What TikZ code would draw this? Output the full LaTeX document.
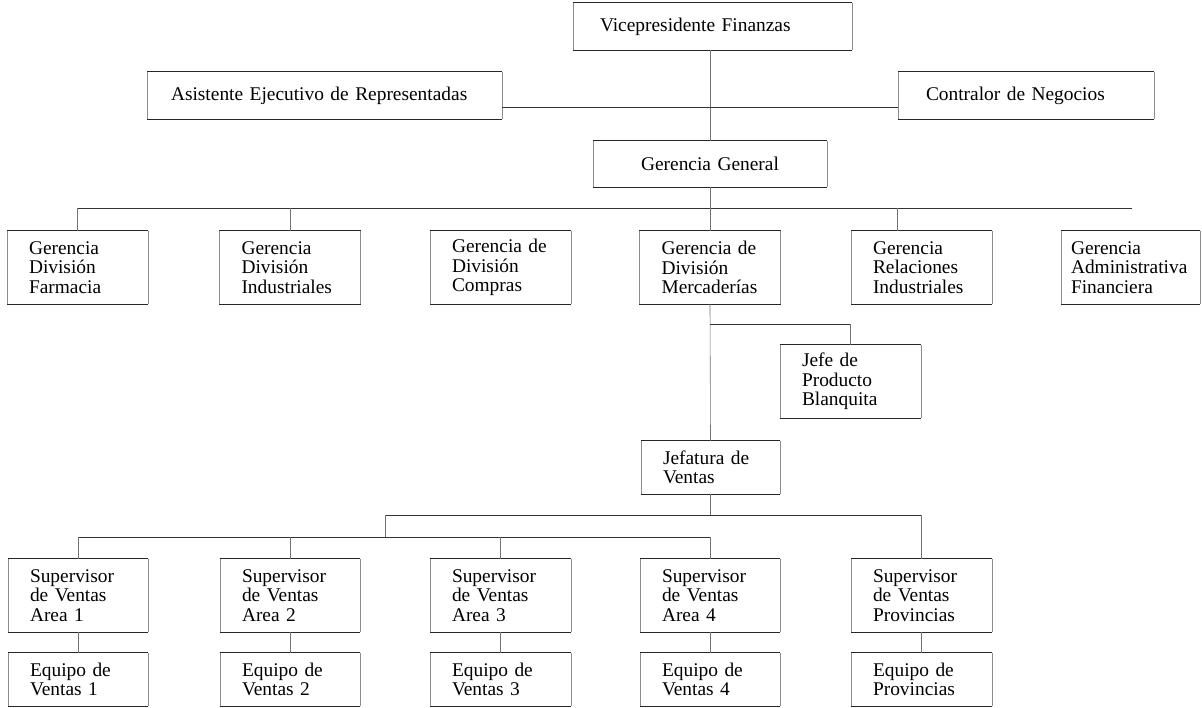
\documentclass[tikz,border=0pt]{standalone}
\usepackage{fontspec}
\setmainfont{Liberation Serif}
\begin{document}
\begin{tikzpicture}[x=1pt,y=-1pt,
  box/.style={rectangle, draw=none, inner xsep=22pt, inner ysep=0pt, align=left,
    font=\fontsize{19.4pt}{19.5pt}\selectfont, anchor=center},
  hbar/.style={line width=1.1pt, black!85},
  vbar/.style={line width=0.5pt, black!45},
  conn/.style={line width=0.8pt, black!80},
  vconn/.style={line width=0.6pt, black!55}]
\fill[white] (0,0) rectangle (1202,707);
\useasboundingbox (0,0) rectangle (1202,707);

% top level
\node[box, minimum width=279pt, minimum height=47pt, inner xsep=27pt, text width=225pt] (vp) at (712.5,26.5) {Vicepresidente Finanzas};
\node[box, minimum width=355pt, minimum height=47pt, inner xsep=24pt, text width=307pt] (asis) at (324.5,95.5) {Asistente Ejecutivo de Representadas};
\node[box, minimum width=256pt, minimum height=47pt, inner xsep=28pt, text width=200pt] (contr) at (1026,95.5) {Contralor de Negocios};
\node[box, minimum width=234pt, minimum height=46pt, inner xsep=23pt, text width=188pt, align=center] (gg) at (710,164) {Gerencia General};

% gerencias
\node[box, minimum width=141pt, minimum height=73pt, text width=97pt] (farm) at (77.5,267.5) {Gerencia\\División\\Farmacia};
\node[box, minimum width=141pt, minimum height=73pt, text width=97pt] (ind) at (290,267.5) {Gerencia\\División\\Industriales};
\node[box, minimum width=141pt, minimum height=73pt, text width=97pt] (comp) at (500.5,267.5) {Gerencia de\\División\\Compras};
\node[box, minimum width=141pt, minimum height=73pt, text width=97pt] (merc) at (710,267.5) {Gerencia de\\División\\Mercaderías};
\node[box, minimum width=141pt, minimum height=73pt, text width=97pt] (rel) at (921.5,267.5) {Gerencia\\Relaciones\\Industriales};
\node[box, minimum width=139pt, minimum height=73pt, inner xsep=10pt, text width=119pt] (gaf) at (1130.5,267.5) {Gerencia\\Administrativa\\Financiera};

% jefe / jefatura
\node[box, minimum width=141pt, minimum height=73pt, text width=97pt] (jefe) at (850.5,381.5) {Jefe de\\Producto\\Blanquita};
\node[box, minimum width=139pt, minimum height=53pt, text width=95pt] (jefa) at (710.5,467.5) {Jefatura de\\Ventas};

% supervisors
\node[box, minimum width=140pt, minimum height=73pt, text width=96pt] (sp1) at (78,595.5) {Supervisor\\de Ventas\\Area 1};
\node[box, minimum width=140pt, minimum height=73pt, text width=96pt] (sp2) at (290,595.5) {Supervisor\\de Ventas\\Area 2};
\node[box, minimum width=141pt, minimum height=73pt, text width=97pt] (sp3) at (500.5,595.5) {Supervisor\\de Ventas\\Area 3};
\node[box, minimum width=140pt, minimum height=73pt, text width=96pt] (sp4) at (710,595.5) {Supervisor\\de Ventas\\Area 4};
\node[box, minimum width=141pt, minimum height=73pt, text width=97pt] (sp5) at (921.5,595.5) {Supervisor\\de Ventas\\Provincias};

% equipos
\node[box, minimum width=140pt, minimum height=53pt, text width=96pt] (eq1) at (78,679.5) {Equipo de\\Ventas 1};
\node[box, minimum width=140pt, minimum height=53pt, text width=96pt] (eq2) at (290,679.5) {Equipo de\\Ventas 2};
\node[box, minimum width=141pt, minimum height=53pt, text width=97pt] (eq3) at (500.5,679.5) {Equipo de\\Ventas 3};
\node[box, minimum width=140pt, minimum height=53pt, text width=96pt] (eq4) at (710,679.5) {Equipo de\\Ventas 4};
\node[box, minimum width=141pt, minimum height=53pt, text width=97pt] (eq5) at (921.5,679.5) {Equipo de\\Provincias};

% box borders
\foreach \n in {vp,asis,contr,gg,farm,ind,comp,merc,rel,gaf,jefe,jefa,sp1,sp2,sp3,sp4,sp5,eq1,eq2,eq3,eq4,eq5}{
  \draw[vbar] (\n.north west) -- (\n.south west) (\n.north east) -- (\n.south east);
  \draw[hbar] (\n.north west) -- (\n.north east) (\n.south west) -- (\n.south east);
}

% connectors top
\draw[vconn] (vp.south -| gg.north) -- (gg.north);
\draw[conn] ([yshift=-11.5pt]asis.east) -- ([yshift=-11.5pt]contr.west);

% gerencias bus
\coordinate (busL) at (77.5,208);
\coordinate (busR) at (1132,208);
\coordinate (relTop) at (897,208);
\draw[conn] (busL) -- (busR);
\draw[vconn] (gg.south) -- (merc.north);
\draw[vconn] (busL) -- (farm.north);
\draw[vconn] (ind.north |- busL) -- (ind.north);
\draw[vconn] (relTop) -- (relTop |- rel.north);

% mercaderias branch
\coordinate (brA) at (710,324);
\draw[vconn] (merc.south) -- (jefa.north);
\draw[conn] (brA) -- (brA -| jefe.north);
\draw[vconn] (brA -| jefe.north) -- (jefe.north);

% ventas buses
\coordinate (ub1) at (385,515);
\coordinate (ub2) at (921.5,515);
\coordinate (lb1) at (385,537);
\draw[vconn] (jefa.south) -- (jefa.south |- ub1);
\draw[conn] (ub1) -- (ub2);
\draw[vconn] (ub2) -- (sp5.north);
\draw[vconn] (ub1) -- (lb1);
\draw[conn] (sp1.north |- lb1) -- (sp4.north |- lb1);
\foreach \n in {sp1,sp2,sp3,sp4}{
  \draw[vconn] (\n.north |- lb1) -- (\n.north);
}
\foreach \i in {1,...,5}{
  \draw[vconn] (sp\i.south) -- (eq\i.north);
}
\end{tikzpicture}
\end{document}
